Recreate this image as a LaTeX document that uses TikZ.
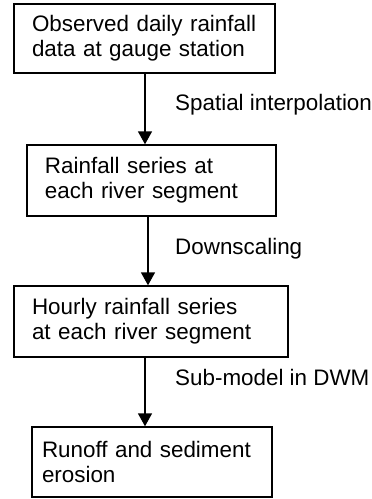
\documentclass[tikz,border=0pt]{standalone}
\usepackage{fontspec}
\setmainfont{Liberation Sans}
\usetikzlibrary{arrows.meta}
\begin{document}
\begin{tikzpicture}[x=1pt,y=-1pt,
  stepbox/.style={draw, line width=1.4pt, align=left, inner ysep=0pt,
    font=\fontsize{22.4}{25}\selectfont},
  flow/.style={line width=1.6pt, -{Triangle[length=13pt,width=14pt]}},
  lab/.style={anchor=west, inner sep=0pt, font=\fontsize{22.4}{25}\selectfont}]
\useasboundingbox (0,0) rectangle (372,499);
\node[stepbox, minimum width=261pt, minimum height=69pt, text width=225pt, inner xsep=18pt] (b1) at (144.5,38.5) {Observed daily rainfall\\data at gauge station};
\node[stepbox, minimum width=249pt, minimum height=71pt, text width=213pt, inner xsep=18pt] (b2) at (151.5,180.5) {Rainfall series at\\each river segment};
\node[stepbox, minimum width=274pt, minimum height=71pt, text width=238pt, inner xsep=18pt] (b3) at (151,321.5) {Hourly rainfall series\\at each river segment};
\node[stepbox, minimum width=240pt, minimum height=70pt, text width=220pt, inner xsep=10pt] (b4) at (152,462) {Runoff and sediment\\erosion};
\coordinate (x1) at (145,0);
\coordinate (x2) at (148,0);
\coordinate (x3) at (145,0);
\draw[flow] (b1.south -| x1) -- (b2.north -| x1);
\draw[flow] (b2.south -| x2) -- (b3.north -| x2);
\draw[flow] (b3.south -| x3) -- (b4.north -| x3);
\node[lab] (l1) at (175,105) {Spatial interpolation};
\node[lab] (l2) at (175,249) {Downscaling};
\node[lab] (l3) at (175,377) {Sub-model in DWM};
\end{tikzpicture}
\end{document}
